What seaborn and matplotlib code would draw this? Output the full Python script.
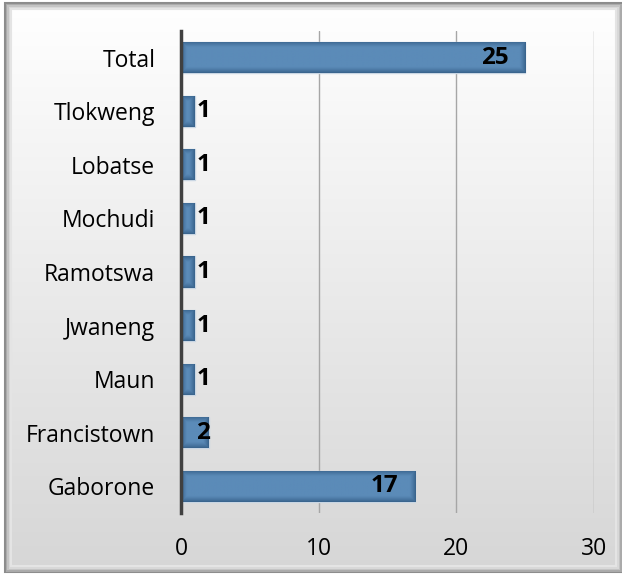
import numpy as np
import pandas as pd
import matplotlib
matplotlib.use("Agg")
import matplotlib.pyplot as plt
import seaborn as sns
from matplotlib.patches import Rectangle

categories = ["Total", "Tlokweng", "Lobatse", "Mochudi", "Ramotswa", "Jwaneng", "Maun", "Francistown", "Gaborone"]
values = [25, 1, 1, 1, 1, 1, 1, 2, 17]
x_ticks = [0, 10, 20, 30]

sns.set_theme(style="white")
plt.rcParams['font.family'] = ['Open Sans', 'DejaVu Sans']

W, H = 622, 574
fig = plt.figure(figsize=(W / 100, H / 100), dpi=100)

# background frame with vertical gradient
bg = fig.add_axes([0, 0, 1, 1], zorder=-10)
bg.set_xlim(0, W)
bg.set_ylim(H, 0)
bg.axis("off")
grad = np.linspace(1.0, 0.84, 256).reshape(-1, 1)
bg.imshow(np.dstack([grad, grad, grad]), extent=(5, W, H - 2, 3), aspect="auto", zorder=0)
for i, c in enumerate(["#8c8c8c", "#aaaaaa", "#c4c4c4", "#d8d8d8", "#e4e4e4"]):
    bg.add_patch(Rectangle((5 + i * 1.5, 3 + i * 1.5), W - 5 - i * 3, H - 5 - i * 3,
                           fill=False, edgecolor=c, lw=1.5, zorder=1))

df = pd.DataFrame({"city": categories, "count": values})

ax = fig.add_axes([181 / W, 1 - 513 / H, (594 - 181) / W, (513 - 31) / H])
ax.patch.set_alpha(0)
sns.barplot(data=df, y="city", x="count", orient="h", color="#5285b3",
            width=0.58, edgecolor="#c9d6e3", linewidth=1.0, saturation=1, ax=ax, zorder=3)

# vignette shading on bars (dark edges, flat light centre)
dark = np.array([0x35, 0x5f, 0x88]) / 255
light = np.array([0x5b, 0x8b, 0xb8]) / 255
px_per_unit = (594 - 181) / 30
for p in ax.patches:
    x0, y0 = p.get_x(), p.get_y()
    w, h = p.get_width(), p.get_height()
    wpx = max(int(round(w * px_per_unit)), 2)
    hpx = 31
    yy = np.arange(hpx) + 0.5
    xx = np.arange(wpx) + 0.5
    dy = np.minimum(yy, hpx - yy)
    dx = np.minimum(xx, wpx - xx)
    d = np.minimum(dy[:, None], dx[None, :])
    t = np.clip(d / 6.0, 0, 1) ** 0.8
    img = dark + t[..., None] * (light - dark)
    im = ax.imshow(img, extent=(x0, x0 + w, y0 + h, y0), aspect="auto", zorder=3.5,
                   interpolation="bilinear")
    im.set_clip_path(p)

ax.set_xlim(0, 30)
ax.set_ylim(len(categories) - 0.5, -0.5)
ax.set_xticks(x_ticks)
ax.set_xlabel("")
ax.set_ylabel("")
ax.grid(axis="x", color="#a6a6a6", lw=1.0, zorder=0)
ax.grid(axis="y", visible=False)
for s in ["top", "right", "bottom"]:
    ax.spines[s].set_visible(False)
ax.spines["left"].set_color("#404040")
ax.spines["left"].set_linewidth(2.5)
ax.spines["left"].set_zorder(5)
ax.tick_params(axis="y", length=0, pad=18.5, labelsize=16.5, labelcolor="#000000")
ax.tick_params(axis="x", length=0, pad=17, labelsize=16.5, labelcolor="#000000")

fs = 17.5
for i, v in enumerate(values):
    if v >= 10:
        ax.annotate(str(v), (v, i), xytext=(-12, 0), textcoords="offset points",
                    ha="right", va="center", fontsize=fs, fontweight="bold",
                    color="black", zorder=6)
    elif v >= 2:
        ax.annotate(str(v), (v, i), xytext=(1, 0), textcoords="offset points",
                    ha="right", va="center", fontsize=fs, fontweight="bold",
                    color="black", zorder=6)
    else:
        ax.annotate(str(v), (v, i), xytext=(1.5, 0), textcoords="offset points",
                    ha="left", va="center", fontsize=fs, fontweight="bold",
                    color="black", zorder=6)

fig.savefig("out.png", dpi=100)
